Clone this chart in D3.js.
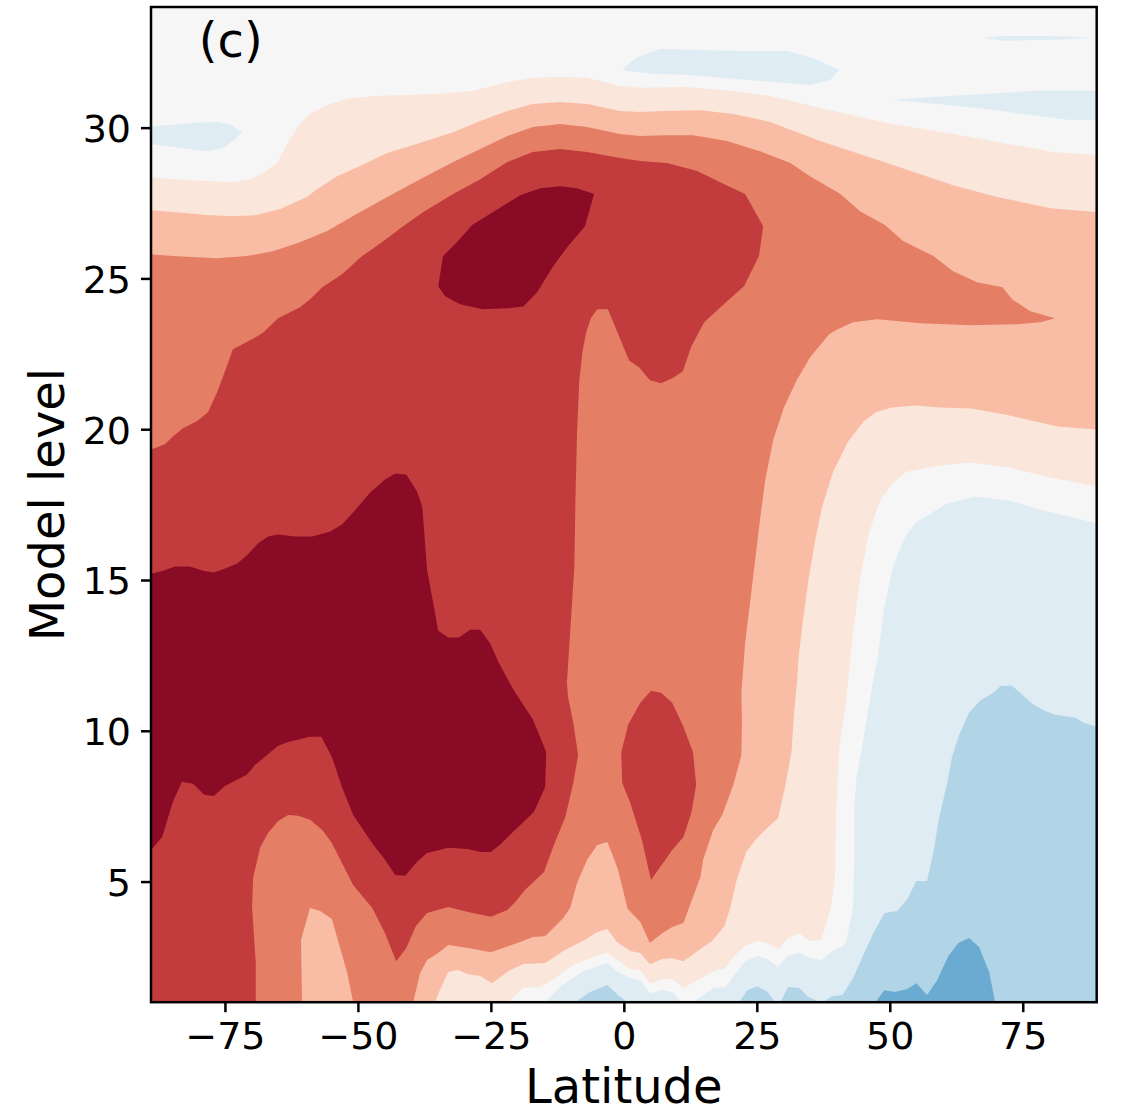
<!DOCTYPE html>
<html>
<head>
<meta charset="utf-8">
<script src="https://cdn.jsdelivr.net/npm/d3@7"></script>
<style>
  html, body { margin: 0; padding: 0; background: #fff; }
  text { font-family: "DejaVu Sans", sans-serif; fill: #000; }
</style>
</head>
<body>
<div id="chart"></div>
<script>
const width = 1138;
const height = 1111;

const latTicks = [-75, -50, -25, 0, 25, 50, 75];
const levelTicks = [5, 10, 15, 20, 25, 30];
const latRange = [-88.9, 88.9];
const levelRange = [1, 34];

// contour outlines, as [latitude, model level]
const warm1 = [[-88.9,28.36],[-84.8,28.29],[-78.4,28.23],[-73.5,28.19],[-70.3,28.29],[-67.5,28.53],[-65.2,28.83],[-63.3,29.46],[-60.9,30.12],[-59,30.45],[-55.8,30.75],[-52,30.95],[-47.2,31.05],[-40.8,31.08],[-34.6,31.12],[-28.3,31.22],[-21.9,31.51],[-17.1,31.65],[-12,31.68],[-6.9,31.65],[-0.7,31.38],[3.1,31.32],[11.9,31.35],[20,31.22],[27.5,31.05],[36.9,30.65],[49.5,30.15],[61.9,29.79],[74.5,29.39],[80.7,29.19],[88.9,29.09],[88.9,18.1],[80.2,18.4],[72.4,18.73],[65.3,18.9],[59.4,18.8],[52.9,18.57],[50.3,18.17],[48,17.57],[46.1,16.57],[44.4,15.01],[43.1,13.25],[41.8,11.03],[40.5,9.47],[39.9,7.28],[39.7,5.05],[38.8,4.06],[37.1,3.06],[34.9,3.03],[33,3.29],[30.9,3.13],[29,2.76],[27,2.96],[25.1,3.03],[22.8,2.86],[20.9,2.56],[19.1,2.13],[16.8,2.03],[14.9,1.83],[11.2,1.47],[9.1,1.77],[7.2,1.77],[4.9,1.63],[3.1,2.07],[1.2,2.1],[-3.1,2.63],[-5,2.56],[-9.5,2.23],[-14.4,1.63],[-15.7,1.5],[-18.9,1.47],[-21.4,1.07],[-21.8,1],[-88.9,1]];

const warm2 = [[-88.9,27.26],[-84.8,27.2],[-78.4,27.1],[-73.5,27.06],[-69,27.1],[-64.6,27.3],[-59.6,27.7],[-57.7,27.96],[-53.9,28.39],[-49.6,28.73],[-44.5,29.16],[-39.6,29.42],[-32.1,29.85],[-27,30.22],[-21.9,30.55],[-17.1,30.78],[-12,30.85],[-6.9,30.78],[-0.7,30.55],[3.1,30.52],[7.4,30.55],[14.4,30.58],[20.6,30.45],[27.5,30.19],[36.9,29.56],[49.5,28.83],[61.9,28.09],[70.2,27.7],[80.2,27.33],[88.9,27.2],[88.9,19.99],[81.5,20.09],[72.4,20.46],[65.3,20.69],[59.4,20.72],[54.9,20.79],[50.3,20.72],[47.4,20.56],[45.1,20.26],[42.2,19.6],[39.3,18.57],[37.3,17.44],[36,16.34],[34.8,15.11],[33.7,13.69],[32.8,12.36],[32.6,11.69],[32,10.6],[31.5,9.27],[30.3,8.14],[29,7.11],[26.2,6.65],[24.7,6.38],[23,5.98],[21.3,5.12],[20,4.12],[18.9,3.53],[16.6,3.03],[14.4,2.76],[11.2,2.36],[9.1,2.46],[7.2,2.43],[4.9,2.26],[3.1,2.63],[1.2,2.7],[-1.3,3],[-3.1,3.43],[-5,3.33],[-7.7,3.03],[-11.4,2.7],[-14.8,2.3],[-18.9,2.27],[-21.4,2.07],[-24.8,1.63],[-27,1.87],[-29.3,1.93],[-31.2,2.07],[-33,2],[-34.6,1.4],[-35.5,1],[-88.9,1]];

const warm3 = [[-88.9,25.8],[-84.8,25.74],[-76.5,25.67],[-70.9,25.74],[-66,25.9],[-60.9,26.2],[-55.8,26.57],[-50.9,27.07],[-44.5,27.7],[-38.3,28.29],[-32.1,28.86],[-27,29.29],[-21.9,29.72],[-17.1,30.02],[-12,30.12],[-6.9,30.02],[-0.7,29.79],[3.1,29.72],[7.4,29.75],[13,29.75],[19.4,29.56],[25.6,29.22],[31.3,28.83],[35,28.39],[40.7,27.8],[44.4,27.23],[49.1,26.77],[52.5,26.24],[58.2,25.74],[61.9,25.24],[66.4,24.87],[71.2,24.71],[73,24.31],[76.4,23.91],[81.1,23.68],[78.3,23.55],[74,23.48],[65.1,23.45],[55.7,23.51],[47.6,23.65],[43.1,23.55],[40.1,23.31],[38.6,23.15],[35,22.38],[32.4,21.59],[30.1,20.72],[28.1,19.66],[26.6,18.33],[25.6,17],[24.7,15.68],[23.8,14.35],[22.8,12.92],[22.1,11.26],[22.2,10.27],[22.1,9.2],[20.6,8.21],[18.5,7.21],[16.8,6.71],[14.9,5.72],[14.4,5.15],[13,4.49],[11.2,3.63],[9.1,3.49],[7.2,3.29],[4.9,2.96],[3.1,3.66],[0.7,4.1],[-0.3,4.82],[-1.1,5.39],[-2,5.82],[-3.1,6.31],[-5,6.21],[-6.9,5.72],[-8.8,4.95],[-10.1,4.12],[-11.4,3.79],[-14.8,3.19],[-17.1,3.16],[-19.5,3],[-25,2.66],[-29.3,2.8],[-33,2.9],[-34.9,2.63],[-37,2.4],[-38.3,1.97],[-39.6,1],[-50.9,1],[-52,1.97],[-53.4,2.83],[-54.9,3.76],[-57.1,4.02],[-59,4.12],[-60.7,3.06],[-60.5,1],[-88.9,1]];

const warm4 = [[-88.9,19.33],[-86.3,19.5],[-84.8,19.76],[-82.9,20.03],[-80.3,20.26],[-78.2,20.56],[-76.5,21.22],[-75.4,21.72],[-73.5,22.65],[-69.9,22.98],[-67.8,23.21],[-65,23.68],[-60.9,24.04],[-59,24.31],[-56.7,24.71],[-53,25.14],[-49.2,25.74],[-45.5,26.2],[-41.5,26.73],[-37.7,27.2],[-32.1,27.8],[-27,28.29],[-21.9,28.86],[-17.1,29.19],[-12,29.29],[-6.9,29.19],[-0.7,28.99],[3.1,28.89],[8.1,28.83],[13.8,28.56],[18.1,28.19],[22.8,27.8],[26.2,26.73],[25.4,25.74],[22.6,24.74],[19.4,24.24],[15.1,23.55],[12.7,22.75],[11.1,21.92],[9.1,21.69],[7,21.52],[4.9,21.62],[2.9,22.05],[1,22.28],[-0.9,23.08],[-3,23.98],[-5,23.98],[-6.2,23.68],[-7.1,23.21],[-7.8,22.55],[-8.4,21.55],[-8.8,19.89],[-9.1,17.67],[-9.3,15.45],[-10.1,13.25],[-10.7,11.59],[-10.5,11.13],[-9.5,10.27],[-8.6,9.2],[-9.5,8.27],[-11,7.14],[-13.3,6.15],[-15,5.32],[-18.6,4.72],[-20.4,4.32],[-21.9,4.06],[-25,3.83],[-29.3,3.99],[-33,4.16],[-37,3.96],[-39.1,3.53],[-40.9,2.8],[-42.8,2.36],[-44.9,3.29],[-47.3,4.12],[-50.9,4.89],[-54.9,6.28],[-56.7,6.71],[-59,7.05],[-61.3,7.18],[-63.1,7.21],[-65,7.01],[-66.9,6.61],[-68.4,6.12],[-69.7,5.12],[-69.9,4.16],[-69.2,2.3],[-69.2,1],[-88.9,1]];

const warm4Lens = [[5.1,11.33],[7,11.26],[9.1,10.93],[11.2,10.13],[13,9.3],[13.6,8.21],[12.7,7.28],[11.2,6.48],[9.1,6.05],[5.1,5.05],[3.4,6.38],[1.2,7.61],[-0.3,8.27],[-0.5,9.27],[0.8,10.2],[3.1,10.93]];

const warm5 = [[-88.9,15.21],[-86.6,15.31],[-84.4,15.45],[-81.6,15.45],[-79.1,15.31],[-77.1,15.25],[-75,15.38],[-72.7,15.55],[-70.9,15.81],[-68.8,16.21],[-66.9,16.44],[-65,16.51],[-61.8,16.44],[-58.6,16.44],[-55.2,16.61],[-53,16.84],[-50.9,17.24],[-47.7,17.9],[-44.9,18.33],[-43,18.53],[-40.9,18.5],[-38.9,17.94],[-37.9,17.44],[-37,15.35],[-34.9,13.32],[-33,13.09],[-31,13.09],[-28.9,13.35],[-27,13.35],[-25.1,12.89],[-23.6,12.29],[-21.8,11.69],[-20.4,11.26],[-18.9,10.86],[-17.1,10.37],[-14.6,9.3],[-14.8,8.14],[-16.9,7.31],[-20.8,6.65],[-23.3,6.22],[-25,5.98],[-27,5.98],[-29.3,6.08],[-33,6.12],[-37,5.95],[-38.9,5.65],[-41.1,5.19],[-43,5.22],[-44.9,5.72],[-47.1,6.22],[-50.9,7.21],[-53,8.14],[-54.9,9.14],[-56.9,9.8],[-59.2,9.8],[-61.3,9.7],[-63.1,9.63],[-65,9.5],[-69.3,8.87],[-70.9,8.54],[-75,8.17],[-77.1,7.84],[-78.9,7.88],[-81,8.24],[-83.1,8.31],[-84.8,7.64],[-86.8,6.48],[-88.9,6.05]];

const warm5Top = [[-5.6,27.8],[-7.3,26.73],[-10.5,26.07],[-13.3,25.4],[-16.3,24.54],[-18.9,24.07],[-21.9,24.01],[-26.5,23.98],[-30.8,24.14],[-33.6,24.41],[-34.9,24.74],[-34,25.74],[-31.4,26.2],[-28.5,26.77],[-24.6,27.2],[-19.5,27.76],[-15.7,27.99],[-12,28.06],[-8.8,27.99]];

const cool1 = [[88.9,16.87],[84.1,17.1],[78.9,17.3],[72.4,17.64],[65.9,17.77],[60.4,17.5],[54.9,16.9],[52.9,16.44],[50.6,15.45],[49,14.12],[47.7,12.36],[46.9,11.69],[44.8,9.47],[43.7,8.37],[43.3,7.28],[43.3,5.62],[43.1,4.16],[41.8,3],[41.1,2.86],[39.2,2.7],[37.1,2.4],[35,2.46],[33,2.63],[30.9,2.56],[29,2.17],[27,2.43],[25.1,2.53],[22.8,2.36],[19.1,1.5],[16.8,1.47],[14.9,1.24],[13,1],[88.9,1]];
const cool1Low = [[-14.8,1],[-12,1.5],[-8.2,1.97],[-5,2.2],[-3.1,2.3],[-1.1,2],[1.2,1.8],[3.1,1.73],[4.9,1.3],[7.2,1.4],[9.1,1.34],[10.8,1]];
const cool1West = [[-88.9,30.05],[-84.8,30.09],[-81,30.15],[-76.5,30.19],[-73.7,30.09],[-71.8,29.85],[-73.5,29.56],[-75.4,29.32],[-78.2,29.22],[-82.9,29.32],[-88.9,29.46]];
const cool1Mid = [[-0.3,31.91],[2.5,32.34],[6.8,32.61],[11.9,32.58],[21.3,32.54],[30.7,32.54],[35,32.34],[40.5,31.91],[38.8,31.58],[35,31.41],[30.7,31.48],[21.3,31.61],[11.9,31.75],[5.5,31.78]];
const cool1East = [[50.5,30.92],[58.9,31.02],[68.3,31.12],[77.7,31.22],[88.9,31.22],[88.9,30.25],[83.9,30.25],[77.7,30.39],[68.3,30.62],[58.9,30.78]];
const cool1Thin = [[67.4,32.98],[71.3,33.04],[80.7,33.04],[88.6,32.98],[80.7,32.91],[71.3,32.88]];

const cool2 = [[88.9,10.13],[86.4,10.27],[84.9,10.43],[81.1,10.53],[79.2,10.66],[76.8,10.9],[73,11.49],[70.9,11.49],[69.5,11.26],[67,11],[64.9,10.6],[62.9,9.8],[61.7,9.14],[60.8,8.27],[59.3,7.14],[58.2,5.98],[57,5.02],[55,5.02],[53.3,4.42],[51.4,4.02],[49,3.96],[46.9,3.29],[45,2.56],[43.1,1.8],[41.1,1.24],[39.2,1.2],[37.3,1],[88.9,1]];
const cool2A = [[29.4,1],[30.9,1.5],[33,1.47],[34.7,1.17],[36.9,1]];
const cool2B = [[21.7,1],[23.2,1.4],[25.1,1.53],[27,1.34],[28.5,1]];
const cool2C = [[-9.2,1],[-6.3,1.34],[-3.1,1.57],[-1.1,1.24],[0.6,1]];

const cool3 = [[47.3,1],[49,1.4],[51,1.34],[53.3,1.44],[55,1.63],[57,1.24],[58.9,1.73],[61,2.53],[62.9,2.96],[64.9,3.13],[66.8,2.83],[68.7,1.99],[69.8,1]];

// painted in this order, each band on top of the previous one
const bands = [
    {fill: "#fae6da", shapes: [warm1]},
    {fill: "#f9bda5", shapes: [warm2]},
    {fill: "#e47f66", shapes: [warm3]},
    {fill: "#c33c3d", shapes: [warm4, warm4Lens]},
    {fill: "#8a0b25", shapes: [warm5, warm5Top]},
    {fill: "#dfecf4", shapes: [cool1, cool1Low, cool1West, cool1Mid, cool1East, cool1Thin]},
    {fill: "#b2d4e7", shapes: [cool2, cool2A, cool2B, cool2C]},
    {fill: "#6babd1", shapes: [cool3]}
];

const margin = {left: 151, right: 1096.7, top: 7, bottom: 1002.2};

const x = d3.scaleLinear().domain(latRange).range([margin.left, margin.right]);
const y = d3.scaleLinear().domain(levelRange).range([margin.bottom, margin.top]);

const svg = d3.select("#chart").append("svg")
    .attr("width", width)
    .attr("height", height)
    .style("display", "block");

svg.append("rect")
    .attr("x", x(latRange[0]))
    .attr("y", y(levelRange[1]))
    .attr("width", x(latRange[1]) - x(latRange[0]))
    .attr("height", y(levelRange[0]) - y(levelRange[1]))
    .attr("fill", "#f6f6f6");

const line = d3.line()
    .x(d => x(d[0]))
    .y(d => y(d[1]));

svg.append("g")
    .selectAll("g")
    .data(bands)
    .join("g")
    .attr("fill", d => d.fill)
    .selectAll("path")
    .data(d => d.shapes)
    .join("path")
    .attr("d", d => line(d) + "Z");

// Axes
const xAxis = svg.append("g")
    .attr("transform", `translate(0,${margin.bottom})`)
    .call(d3.axisBottom(x).tickValues(latTicks).tickSize(10).tickPadding(10));

const yAxis = svg.append("g")
    .attr("transform", `translate(${margin.left},0)`)
    .call(d3.axisLeft(y).tickValues(levelTicks).tickFormat(d3.format("d")).tickSize(10).tickPadding(10));

[xAxis, yAxis].forEach(a => {
    a.select(".domain").remove();
    a.selectAll(".tick line").attr("stroke", "#000").attr("stroke-width", 2.5);
    a.selectAll("text").style("font-size", "38px").style("font-family", '"DejaVu Sans", sans-serif');
});
yAxis.selectAll("text").attr("dy", "0.365em");

// Frame
svg.append("rect")
    .attr("x", x(latRange[0]))
    .attr("y", y(levelRange[1]))
    .attr("width", x(latRange[1]) - x(latRange[0]))
    .attr("height", y(levelRange[0]) - y(levelRange[1]))
    .attr("fill", "none")
    .attr("stroke", "#000")
    .attr("stroke-width", 2.5);

svg.append("text")
    .attr("x", x(0))
    .attr("y", 1103)
    .attr("text-anchor", "middle")
    .style("font-size", "48px")
    .text("Latitude");

svg.append("text")
    .attr("transform", `translate(64,${y(17.5)}) rotate(-90)`)
    .attr("text-anchor", "middle")
    .style("font-size", "48px")
    .text("Model level");

svg.append("text")
    .attr("x", x(-79.9))
    .attr("y", 57)
    .style("font-size", "48px")
    .text("(c)");
</script>
</body>
</html>
